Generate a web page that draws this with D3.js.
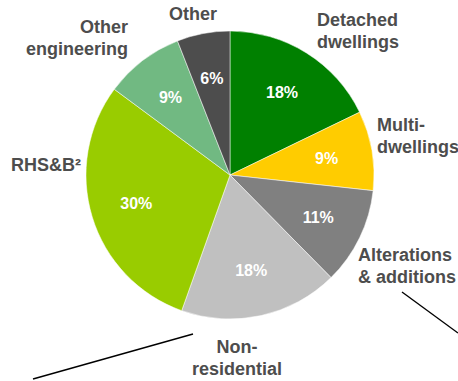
<!DOCTYPE html>
<html>
<head>
<meta charset="utf-8">
<script src="https://cdn.jsdelivr.net/npm/d3@7/dist/d3.min.js"></script>
<style>
  html, body { margin: 0; padding: 0; background: #fff; }
  svg { display: block; }
  text { font-family: Arial, "Liberation Sans", sans-serif; font-weight: bold; }
</style>
</head>
<body>
<svg id="chart" width="458" height="381"></svg>
<script>
// Share of work by category (percent)
const categories = [
  ["Detached", "dwellings"],
  ["Multi-", "dwellings"],
  ["Alterations", "& additions"],
  ["Non-", "residential"],
  ["RHS&B\u00B2"],
  ["Other", "engineering"],
  ["Other"]
];
const shares = [18, 9, 11, 18, 30, 9, 6];
const colors = ["#008000", "#FFCC00", "#808080", "#C0C0C0", "#99CC00", "#71B982", "#4D4D4D"];

const W = 458, H = 381;
const cx = 230, cy = 175, R = 144;

const svg = d3.select("#chart");

const pie = d3.pie().sort(null).value(d => d)
  .startAngle(0).endAngle(2 * Math.PI);
const arcs = pie(shares);

const arc = d3.arc().innerRadius(0).outerRadius(R);
const labelArc = d3.arc().innerRadius(98).outerRadius(98);

const g = svg.append("g").attr("transform", `translate(${cx},${cy})`);

g.selectAll("path.slice")
  .data(arcs)
  .enter().append("path")
  .attr("class", "slice")
  .attr("d", arc)
  .attr("fill", (d, i) => colors[i])
  .attr("stroke", "#ffffff")
  .attr("stroke-width", 0.5);

// percentage labels inside slices
g.selectAll("text.pct")
  .data(arcs)
  .enter().append("text")
  .attr("class", "pct")
  .attr("transform", d => `translate(${labelArc.centroid(d)})`)
  .attr("text-anchor", "middle")
  .attr("dy", "0.35em")
  .attr("fill", "#ffffff")
  .attr("font-size", 16)
  .text(d => d.value + "%");

// category name placement around the pie
const nameLayout = [
  { x: 317, y: 26, anchor: "start" },
  { x: 377, y: 131, anchor: "start" },
  { x: 358, y: 261, anchor: "start" },
  { x: 237, y: 353, anchor: "middle" },
  { x: 11, y: 171, anchor: "start" },
  { x: 128, y: 33, anchor: "end" },
  { x: 193, y: 20, anchor: "middle" }
];
const lineGap = 21.5;

categories.forEach((lines, i) => {
  const pos = nameLayout[i];
  const t = svg.append("text")
    .attr("x", pos.x)
    .attr("y", pos.y)
    .attr("text-anchor", pos.anchor)
    .attr("fill", "#4D4D4D")
    .attr("font-size", 18);
  lines.forEach((s, j) => {
    t.append("tspan")
      .attr("x", pos.x)
      .attr("y", pos.y + j * lineGap)
      .text(s);
  });
});

// connector strokes leading off the figure
const connectors = [
  [[402, 292], [458, 333]],
  [[193, 334], [33, 379]]
];
svg.selectAll("line.conn")
  .data(connectors)
  .enter().append("line")
  .attr("class", "conn")
  .attr("x1", d => d[0][0]).attr("y1", d => d[0][1])
  .attr("x2", d => d[1][0]).attr("y2", d => d[1][1])
  .attr("stroke", "#000")
  .attr("stroke-width", 1.4);
</script>
</body>
</html>
